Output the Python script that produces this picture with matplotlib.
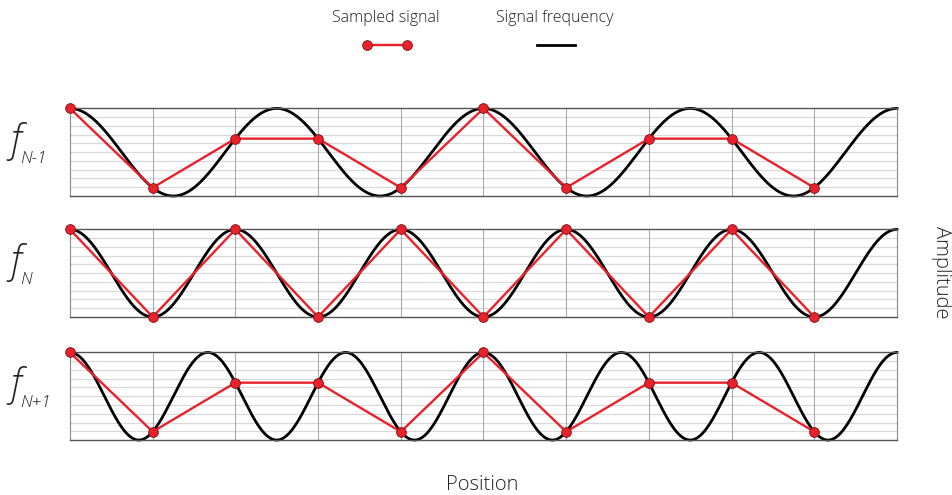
import numpy as np
import matplotlib.pyplot as plt
from matplotlib.lines import Line2D

plt.rcParams["font.family"] = ["Open Sans", "DejaVu Sans"]

# sample positions and the amplitude picked up at each one
positions = [0, 1, 2, 3, 4, 5, 6, 7, 8, 9]
samples_low = [1.0, -0.81, 0.31, 0.31, -0.81, 1.0, -0.81, 0.31, 0.31, -0.81]
samples_nyq = [1.0, -1.0, 1.0, -1.0, 1.0, -1.0, 1.0, -1.0, 1.0, -1.0]
samples_high = [1.0, -0.81, 0.31, 0.31, -0.81, 1.0, -0.81, 0.31, 0.31, -0.81]

# signal frequencies in cycles per sample spacing
freqs = [0.4, 0.5, 0.6]
row_labels = ["N-1", "N", "N+1"]

red = "#e8212b"
x_end = 10
txt = "#222222"

fig = plt.figure(figsize=(9.52, 4.95), dpi=100)

rows = [(0.604, samples_low), (0.3596, samples_nyq), (0.111, samples_high)]
t = np.linspace(0, x_end, 1200)

for (y0, samp), f, lab in zip(rows, freqs, row_labels):
    ax = fig.add_axes([0.0735, y0, 0.8687, 0.177])
    ax.set_xlim(0, x_end)
    ax.set_ylim(-1, 1)
    for yy in np.linspace(-1, 1, 11)[1:-1]:
        ax.axhline(yy, color="#d9d9d9", lw=0.9, zorder=0)
    for xx in range(1, x_end):
        ax.axvline(xx, color="#ababab", lw=0.8, zorder=0)
    ax.plot(t, np.cos(2 * np.pi * f * t), color="black", lw=2.0, zorder=2,
            clip_on=False)
    ax.plot(positions, samp, color=red, lw=1.7, marker="o", ms=7,
            mfc=red, mec="#7a1015", mew=0.6, zorder=3, clip_on=False)
    ax.set_xticks([])
    ax.set_yticks([])
    for side in ["top", "bottom"]:
        ax.spines[side].set_color("#555555")
        ax.spines[side].set_linewidth(1.0)
    for side in ["left", "right"]:
        ax.spines[side].set_color("#888888")
        ax.spines[side].set_linewidth(0.8)
    yc = y0 + 0.177 / 2
    fig.text(0.011, yc + 0.022, "f", fontsize=27, style="italic",
             fontweight="light", ha="left", va="center", color=txt)
    fig.text(0.021, yc - 0.013, lab, fontsize=12.5, style="italic",
             fontweight="light", ha="left", va="center", color=txt)

fig.text(0.507, 0.02, "Position", fontsize=14.5, fontweight="light",
         ha="center", va="center", color=txt)
fig.text(0.988, 0.45, "Amplitude", fontsize=14.5, fontweight="light",
         ha="center", va="center", rotation=-90, color=txt)

# legend at the top
fig.text(0.405, 0.963, "Sampled signal", fontsize=11.5, fontweight="light",
         ha="center", va="center", color=txt)
fig.text(0.583, 0.963, "Signal frequency", fontsize=11.5, fontweight="light",
         ha="center", va="center", color=txt)
fig.add_artist(Line2D([0.386, 0.427], [0.909, 0.909], color=red, lw=1.7,
                      marker="o", ms=7, mfc=red, mec="#7a1015", mew=0.6,
                      transform=fig.transFigure))
fig.add_artist(Line2D([0.564, 0.604], [0.909, 0.909], color="black", lw=2.0,
                      transform=fig.transFigure))

fig.savefig("out.png", dpi=100)
